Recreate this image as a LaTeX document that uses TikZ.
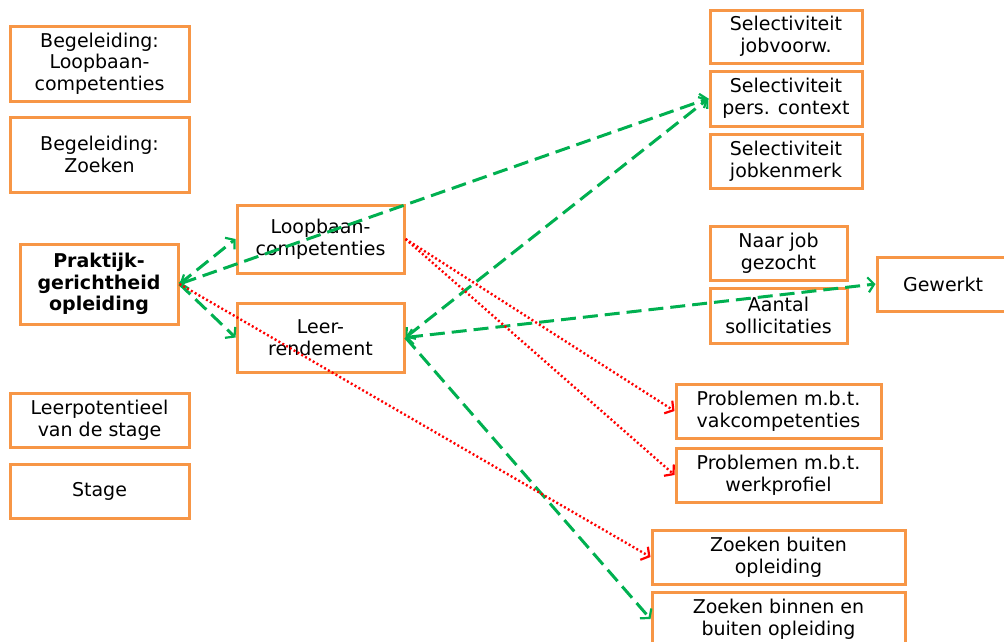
\documentclass[tikz,border=0pt]{standalone}
\usepackage{fontspec}
\setmainfont{DejaVu Sans}
\usepackage{tikz}
\usetikzlibrary{arrows.meta,positioning}
\definecolor{boxoranje}{RGB}{247,150,70}
\definecolor{pijlgroen}{RGB}{0,176,80}
\definecolor{pijlrood}{RGB}{255,0,0}
\newcommand{\boxfont}{\fontsize{19}{21.7}\selectfont}
\tikzset{
  >={Straight Barb[length=6pt,width=15pt,line width=2.2pt]},
  blok/.style  ={rectangle, draw=boxoranje, line width=3pt, fill=white,
                 inner sep=2pt, font=\boxfont, align=center},
  grn/.style   ={draw=pijlgroen, line width=3pt,
                 dash pattern=on 15pt off 7pt},
  rood/.style  ={draw=pijlrood, line width=2.4pt,
                 dash pattern=on 2pt off 2.4pt},
}

\begin{document}
\begin{tikzpicture}[x=1pt,y=-1pt]
\useasboundingbox (0,0) rectangle (1004,641);
\clip (0,0) rectangle (1004,641);

% --- left column ----------------------------------------------------
\node[blok, minimum width=179pt, minimum height=75pt] (begloop) at (99.5,63.5)
  {Begeleiding:\\Loopbaan-\\competenties};
\node[blok, minimum width=179pt, minimum height=75pt] (begzoek) at (99.5,154.5)
  {Begeleiding:\\Zoeken};
\node[blok, minimum width=158pt, minimum height=80pt, font=\boxfont\bfseries]
  (prak) at (99,284) {Praktijk-\\gerichtheid\\opleiding};
\node[blok, minimum width=179pt, minimum height=54pt] (leerpot) at (99.5,420)
  {Leerpotentieel\\van de stage};
\node[blok, minimum width=179pt, minimum height=54pt] (stage) at (99.5,491)
  {Stage};

% --- mediators ------------------------------------------------------
\node[blok, minimum width=167pt, minimum height=68pt] (loopcomp) at (320.5,239)
  {Loopbaan-\\competenties};
\node[blok, minimum width=167pt, minimum height=69pt] (leerrend) at (320.5,337.5)
  {Leer-\\rendement};

% --- outcomes -------------------------------------------------------
\node[blok, minimum width=152pt, minimum height=53pt] (seljob) at (786,36.5)
  {Selectiviteit\\jobvoorw.};
\node[blok, minimum width=152pt, minimum height=55pt] (selpers) at (786,98.5)
  {Selectiviteit\\pers. context};
\node[blok, minimum width=152pt, minimum height=54pt] (selken) at (786,161)
  {Selectiviteit\\jobkenmerk};
\node[blok, minimum width=137pt, minimum height=54pt] (naarjob) at (778.5,253)
  {Naar job\\gezocht};
\node[blok, minimum width=137pt, minimum height=55pt] (aantal) at (778.5,315.5)
  {Aantal\\sollicitaties};
\node[blok, minimum width=132pt, minimum height=54pt] (gewerkt) at (943,284)
  {Gewerkt};
\node[blok, minimum width=205pt, minimum height=54pt] (probvak) at (778.5,411)
  {Problemen m.b.t.\\vakcompetenties};
\node[blok, minimum width=205pt, minimum height=54pt] (probwerk) at (778.5,475)
  {Problemen m.b.t.\\werkprofiel};
\node[blok, minimum width=253pt, minimum height=54pt] (zoekbuiten) at (778.5,557)
  {Zoeken buiten\\opleiding};
\node[blok, minimum width=253pt, minimum height=54pt] (zoekbinnen) at (778.5,619)
  {Zoeken binnen en\\buiten opleiding};

% --- green links ----------------------------------------------------
\draw[grn,->] (prak.east) -- (loopcomp.west);
\draw[grn,->] (prak.east) -- (leerrend.west);
\draw[grn,<->] (prak.east) -- (selpers.west);
\draw[grn,<->] (leerrend.east) -- (selpers.west);
\draw[grn,<->] (leerrend.east) -- (gewerkt.west);
\draw[grn,->] (leerrend.east) -- (zoekbinnen.west);

% --- red links ------------------------------------------------------
\draw[rood,->] (loopcomp.east) -- (probvak.west);
\draw[rood,->] (loopcomp.east) -- (probwerk.west);
\draw[rood,->] (prak.east) -- (zoekbuiten.west);
\end{tikzpicture}
\end{document}
